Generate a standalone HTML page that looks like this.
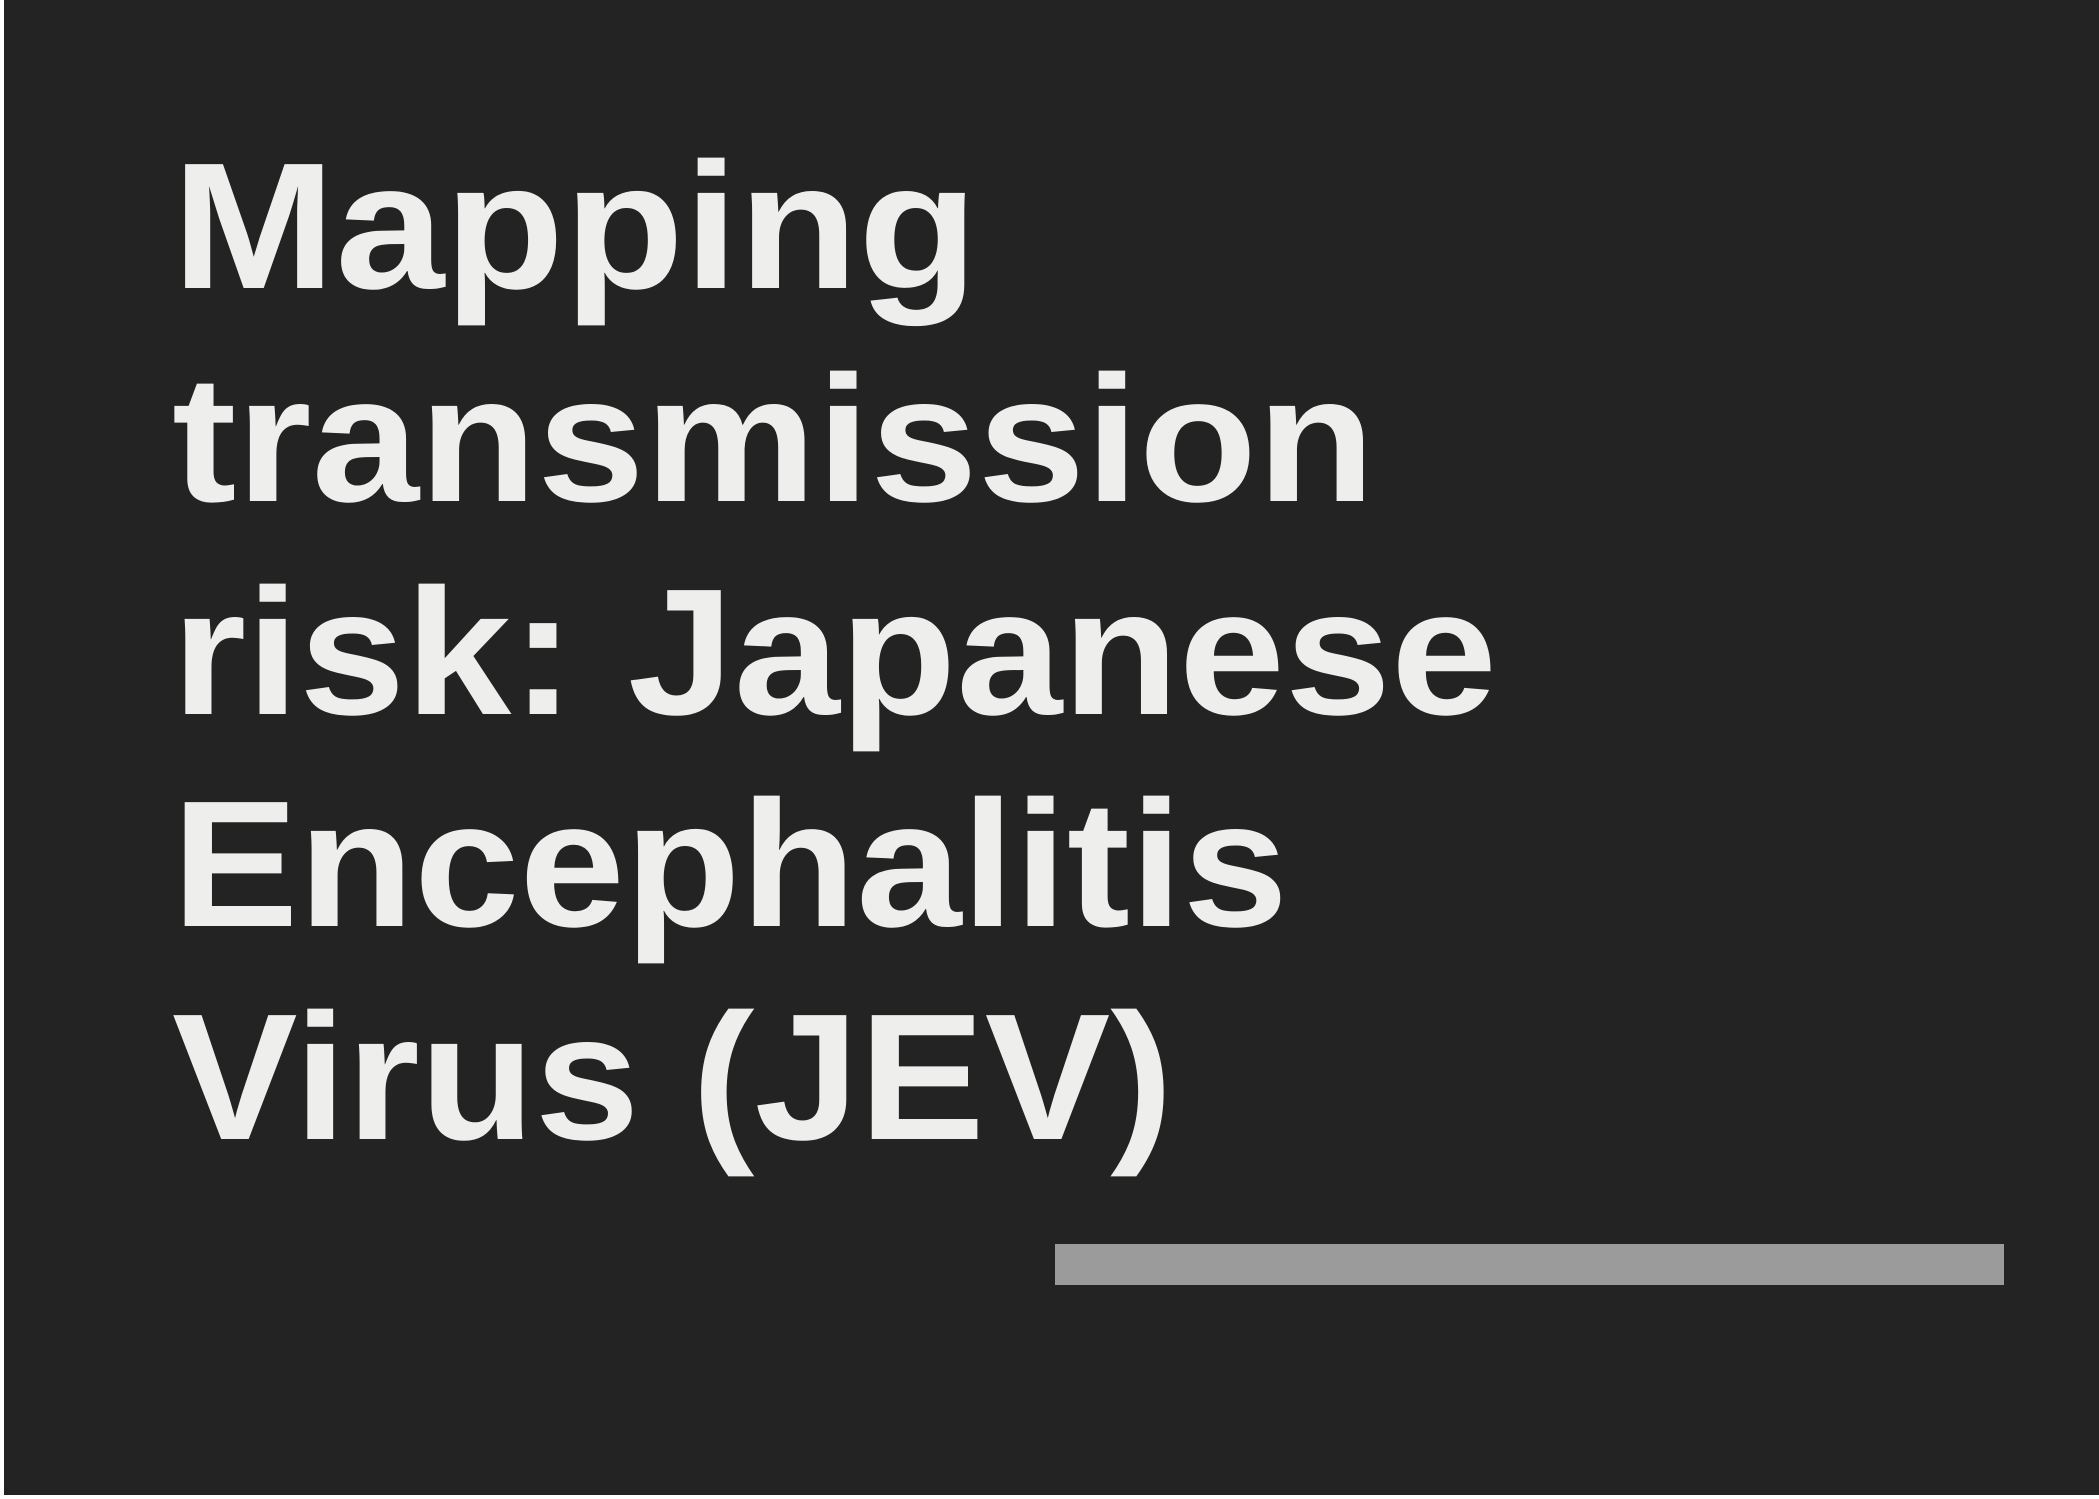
<!DOCTYPE html>
<html><head><meta charset="utf-8"><style>
html,body{margin:0;padding:0;background:#fff;}
body{width:2099px;height:1499px;position:relative;overflow:hidden;}
#slide{position:absolute;left:4px;top:0;width:2095px;height:1495px;background:#232323;}
svg{position:absolute;left:0;top:0;}
</style></head><body>
<div id="slide"></div>
<svg width="2099" height="1499">
<g font-family="Liberation Sans, sans-serif" font-weight="bold" font-size="180" fill="#eeeeec">
<text x="172" y="288" textLength="806" lengthAdjust="spacingAndGlyphs">Mapping</text>
<text x="172" y="501" textLength="1203" lengthAdjust="spacingAndGlyphs">transmission</text>
<text x="172" y="714" textLength="1325" lengthAdjust="spacingAndGlyphs">risk: Japanese</text>
<text x="172" y="926" textLength="1116" lengthAdjust="spacingAndGlyphs">Encephalitis</text>
<text x="172" y="1139" textLength="1001" lengthAdjust="spacingAndGlyphs">Virus (JEV)</text>
</g>
<rect x="1055" y="1244" width="949" height="41" fill="#9b9b9b"/>
</svg>
</body></html>
